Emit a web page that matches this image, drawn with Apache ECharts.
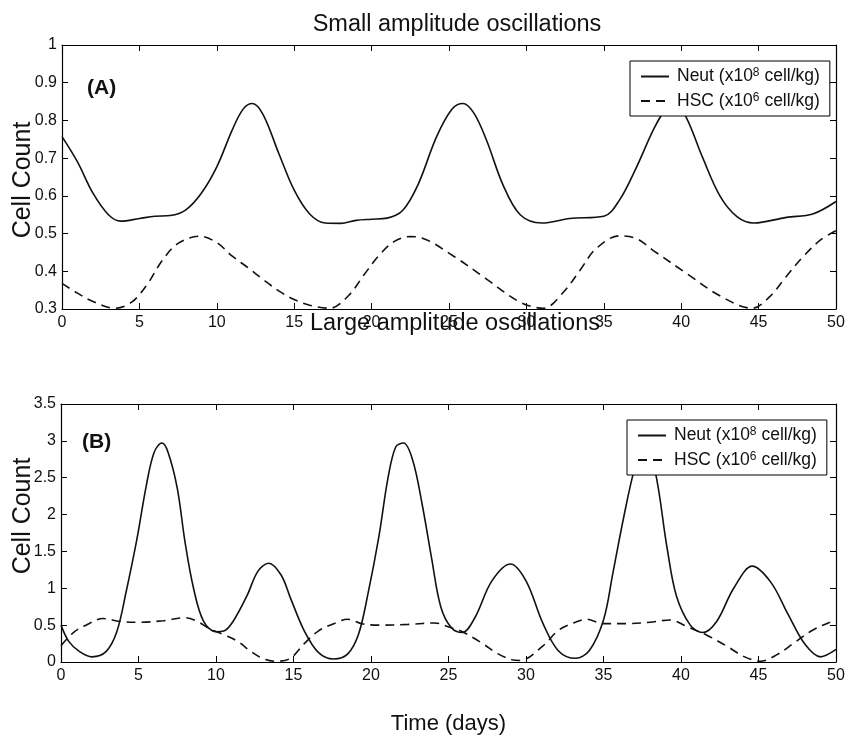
<!DOCTYPE html>
<html>
<head>
<meta charset="utf-8">
<script src="https://cdn.jsdelivr.net/npm/echarts@6/dist/echarts.min.js"></script>
<style>
  html, body { margin: 0; padding: 0; background: #fff; }
  #chart { width: 848px; height: 740px; }
</style>
</head>
<body>
<div id="chart"></div>
<script>
var FONT = '"Liberation Sans", Arial, Helvetica, sans-serif';

// x ticks shared by both panels
var xTicks = [0, 5, 10, 15, 20, 25, 30, 35, 40, 45, 50];

// (A) small amplitude oscillations
var neutA_t = [0, 1, 2, 3, 3.8, 5, 6, 7, 8, 9, 10, 11, 11.7, 12.3, 13, 14, 15, 16, 17, 18, 19, 20, 21, 22, 23, 24.2, 25.2, 25.9, 26.6, 27.4, 28.5, 29.6, 31, 32.8, 35, 36, 37.1, 38.2, 39, 39.6, 40.3, 41.4, 42.5, 43.6, 44.7, 46.8, 48.5, 50];
var neutA_v = [0.757, 0.69, 0.607, 0.55, 0.533, 0.54, 0.546, 0.548, 0.563, 0.607, 0.677, 0.775, 0.83, 0.845, 0.815, 0.713, 0.615, 0.552, 0.528, 0.527, 0.535, 0.538, 0.541, 0.561, 0.63, 0.757, 0.83, 0.845, 0.82, 0.75, 0.628, 0.55, 0.528, 0.54, 0.546, 0.588, 0.675, 0.775, 0.83, 0.843, 0.81, 0.7, 0.6, 0.545, 0.528, 0.543, 0.552, 0.585];
var hscA_t = [0, 1, 2, 3.4, 4.5, 5.5, 6.5, 7.5, 8.9, 10, 11, 12, 13, 14, 15, 16, 17.3, 18.5, 19.5, 20.5, 21.5, 22.5, 23.1, 25.3, 27.4, 29.6, 31.1, 32.4, 33.5, 34.5, 36, 37.1, 38.2, 40.4, 42.5, 44.6, 45.7, 46.8, 47.9, 49, 50];
var hscA_v = [0.368, 0.342, 0.32, 0.302, 0.318, 0.365, 0.43, 0.474, 0.493, 0.476, 0.44, 0.41, 0.378, 0.348, 0.325, 0.31, 0.302, 0.335, 0.39, 0.443, 0.48, 0.492, 0.49, 0.44, 0.38, 0.318, 0.302, 0.345, 0.405, 0.46, 0.494, 0.487, 0.455, 0.393, 0.335, 0.302, 0.332, 0.387, 0.44, 0.483, 0.508];

// (B) large amplitude oscillations
var neutB_t = [0, 0.5, 1.2, 2, 2.9, 3.6, 4.2, 4.9, 5.5, 6, 6.5, 6.9, 7.5, 8, 8.55, 9.2, 10, 10.5, 11.1, 12, 12.7, 13.4, 14.2, 14.8, 15.7, 16.6, 17.6, 18.5, 19.2, 19.8, 20.5, 21.1, 21.6, 22.1, 22.7, 23.3, 23.9, 24.5, 25.2, 25.9, 26.7, 27.8, 29, 30, 31.1, 32.1, 33.2, 34.1, 35, 35.6, 36.3, 37, 37.6, 38.3, 39.1, 39.7, 40.6, 41.4, 42.3, 43.4, 44.6, 45.8, 46.9, 48, 49, 50];
var neutB_v = [0.5, 0.28, 0.14, 0.07, 0.14, 0.41, 0.95, 1.67, 2.39, 2.84, 2.97, 2.85, 2.36, 1.63, 1.0, 0.55, 0.41, 0.42, 0.55, 0.9, 1.23, 1.34, 1.18, 0.87, 0.42, 0.13, 0.04, 0.11, 0.38, 0.92, 1.69, 2.5, 2.92, 2.97, 2.73, 2.14, 1.42, 0.75, 0.46, 0.4, 0.6, 1.1, 1.33, 1.1, 0.52, 0.15, 0.05, 0.16, 0.57, 1.2, 1.96, 2.62, 2.95, 2.62, 1.55, 0.9, 0.5, 0.4, 0.55, 1.0, 1.3, 1.08, 0.65, 0.24, 0.07, 0.17];
var hscB_t = [0, 0.8, 1.8, 2.7, 3.8, 5.1, 6.6, 8, 8.8, 9.6, 10.5, 11.4, 12.2, 13.1, 13.9, 14.8, 15.7, 16.6, 17.6, 18.5, 19.4, 20.5, 22.4, 24.1, 25.1, 25.9, 27.2, 28.2, 29.1, 29.6, 31.1, 32.1, 33.2, 33.9, 35, 36.5, 38, 39.3, 40.4, 41.7, 43, 44, 45.1, 46.2, 47.3, 48.4, 49.5, 50];
var hscB_v = [0.22, 0.4, 0.52, 0.59, 0.55, 0.54, 0.56, 0.6, 0.55, 0.45, 0.37, 0.28, 0.15, 0.04, 0.01, 0.05, 0.25, 0.42, 0.52, 0.58, 0.52, 0.5, 0.51, 0.53, 0.47, 0.41, 0.25, 0.11, 0.03, 0.02, 0.22, 0.43, 0.54, 0.58, 0.52, 0.52, 0.54, 0.57, 0.48, 0.36, 0.21, 0.08, 0.01, 0.1, 0.26, 0.42, 0.53, 0.56];

var NEUT = 'Neut';
var HSC = 'HSC';

function pairs(t, v) {
    var out = [];
    for (var i = 0; i < t.length; i++) out.push([t[i], v[i]]);
    return out;
}

function xAx(grid, pos) {
    return {
        type: 'value', gridIndex: grid, position: pos,
        min: 0, max: 50, interval: 5,
        axisLine: { show: true, onZero: false, lineStyle: { color: '#000', width: 1.2 } },
        axisTick: { show: true, inside: true, length: 6, lineStyle: { color: '#000' } },
        axisLabel: { show: pos === 'bottom', margin: 6, color: '#111', fontSize: 16, fontFamily: FONT },
        splitLine: { show: false }
    };
}

function yAx(grid, pos, min, max, step) {
    return {
        type: 'value', gridIndex: grid, position: pos,
        min: min, max: max, interval: step,
        axisLine: { show: true, onZero: false, lineStyle: { color: '#000', width: 1.2 } },
        axisTick: { show: true, inside: true, length: 6, lineStyle: { color: '#000' } },
        axisLabel: {
            show: pos === 'left', margin: 5, color: '#111', fontSize: 16, fontFamily: FONT,
            formatter: function (v) { return String(+v.toFixed(1)); }
        },
        splitLine: { show: false }
    };
}

function legendBox(top, left) {
    return {
        orient: 'vertical', top: top, left: left,
        data: [NEUT, HSC],
        backgroundColor: '#fff', borderColor: '#000', borderWidth: 1,
        padding: [6, 10, 6, 10], itemGap: 6, itemWidth: 28, itemHeight: 18,
        itemStyle: { color: 'rgba(0,0,0,0)', borderWidth: 0, borderColor: 'rgba(0,0,0,0)' },
        formatter: function (n) {
            return n === NEUT ? 'Neut (x10{sup|8} cell/kg)' : 'HSC (x10{sup|6} cell/kg)';
        },
        textStyle: {
            color: '#111', fontSize: 17.5, fontFamily: FONT, padding: [0, 0, 0, 3],
            rich: { sup: { fontSize: 12, fontFamily: FONT, color: '#111', verticalAlign: 'top', padding: [0, 0, 7, 0] } }
        }
    };
}

function lineSeries(name, xi, yi, data, dashed) {
    return {
        name: name, type: 'line', xAxisIndex: xi, yAxisIndex: yi,
        data: data, showSymbol: false, symbol: 'none', smooth: 0.35,
        z: 2,
        lineStyle: { color: '#111', width: 1.6, type: dashed ? [9, 6] : 'solid' },
        itemStyle: { color: '#111' }
    };
}

function vLabel(x, y, text) {
    return {
        type: 'text', x: x, y: y, rotation: Math.PI / 2,
        style: { text: text, fill: '#111', font: '25px ' + FONT, align: 'center', verticalAlign: 'middle' }
    };
}

var option = {
    backgroundColor: '#fff',
    animation: false,
    title: [
        { text: 'Small amplitude oscillations', left: 452, top: 8, textAlign: 'center',
          textStyle: { fontSize: 23.5, fontWeight: 'normal', color: '#111', fontFamily: FONT } },
        { text: 'Large amplitude oscillations', left: 450, top: 307, textAlign: 'center',
          textStyle: { fontSize: 23.5, fontWeight: 'normal', color: '#111', fontFamily: FONT } },
        { text: '(A)', left: 82, top: 73,
          textStyle: { fontSize: 21, fontWeight: 'bold', color: '#111', fontFamily: FONT } },
        { text: '(B)', left: 77, top: 427,
          textStyle: { fontSize: 21, fontWeight: 'bold', color: '#111', fontFamily: FONT } }
    ],
    graphic: [vLabel(23, 180, 'Cell Count'), vLabel(23, 516, 'Cell Count')],
    legend: [legendBox(61, 630), legendBox(420, 627)],
    grid: [
        { left: 62, right: 12, top: 45, height: 264 },
        { left: 61, right: 12, top: 404, height: 258 }
    ],
    xAxis: [
        xAx(0, 'bottom'), xAx(0, 'top'),
        Object.assign(xAx(1, 'bottom'), {
            name: 'Time (days)', nameLocation: 'middle', nameGap: 51,
            nameTextStyle: { color: '#111', fontSize: 22, fontFamily: FONT }
        }),
        xAx(1, 'top')
    ],
    yAxis: [
        yAx(0, 'left', 0.3, 1, 0.1), yAx(0, 'right', 0.3, 1, 0.1),
        yAx(1, 'left', 0, 3.5, 0.5), yAx(1, 'right', 0, 3.5, 0.5)
    ],
    series: [
        lineSeries(NEUT, 0, 0, pairs(neutA_t, neutA_v), false),
        lineSeries(HSC, 0, 0, pairs(hscA_t, hscA_v), true),
        lineSeries(NEUT, 2, 2, pairs(neutB_t, neutB_v), false),
        lineSeries(HSC, 2, 2, pairs(hscB_t, hscB_v), true)
    ]
};

var chart = echarts.init(document.getElementById('chart'), null, { renderer: 'canvas' });
chart.setOption(option);
</script>
</body>
</html>
